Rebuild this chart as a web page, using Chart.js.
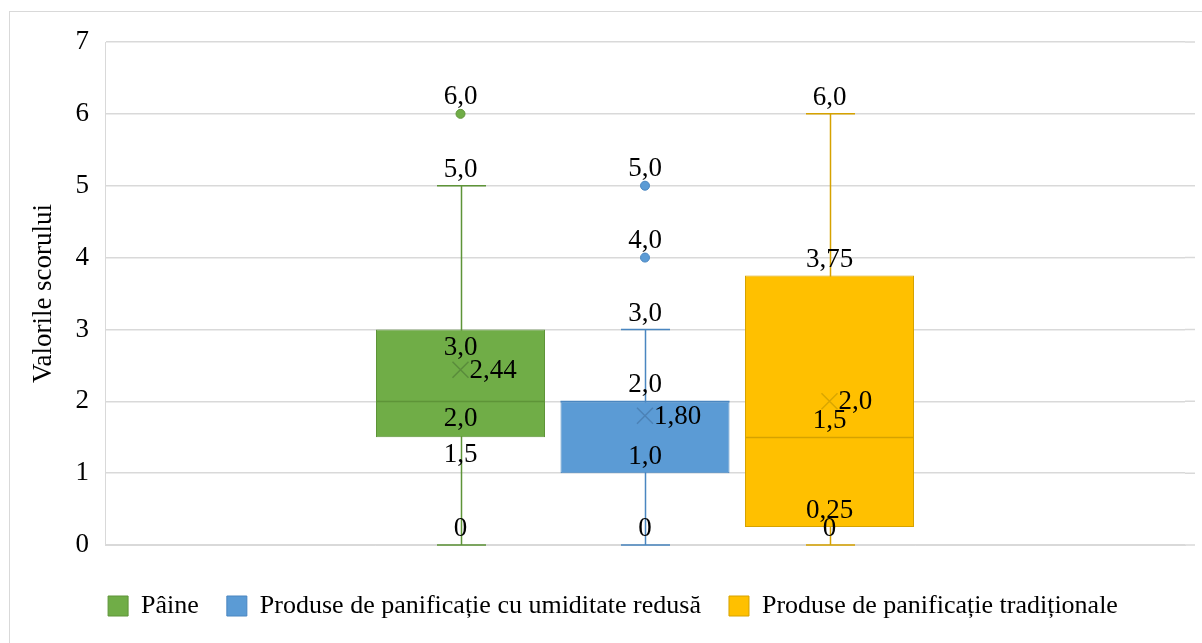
<!DOCTYPE html>
<html>
<head>
<meta charset="utf-8">
<script src="https://cdn.jsdelivr.net/npm/chart.js@4.4.0/dist/chart.umd.min.js"></script>
<style>
  html, body { margin: 0; padding: 0; background: #fff; }
  #wrap { width: 1202px; height: 643px; }
</style>
</head>
<body>
<div id="wrap"><canvas id="c" width="1202" height="643"></canvas></div>
<script>
/* ── Date ───────────────────────────────────────────── */
const series   = ['Pâine', 'Produse de panificație cu umiditate redusă', 'Produse de panificație tradiționale'];
const mins     = [0, 0, 0];
const q1s      = [1.5, 1.0, 0.25];
const medians  = [2.0, 2.0, 1.5];
const q3s      = [3.0, 2.0, 3.75];
const maxs     = [5.0, 3.0, 6.0];
const means    = [2.44, 1.80, 2.0];
const outliers = [[6.0], [4.0, 5.0], []];
const yTicks   = [0, 1, 2, 3, 4, 5, 6, 7];

/* ── Stil ───────────────────────────────────────────── */
const fills   = ['#70ad47', '#5b9bd5', '#ffc000'];
const strokes = ['#5e9438', '#4a86c0', '#d6a200'];
const meanCol = ['#5a8c3c', '#4c82b6', '#d9a600'];
const meanDigits = [2, 2, 1];
const labelsBelow = [['q1', 'median', 'q3'], [], []];
const FONT = '"Liberation Serif", "Times New Roman", serif';
const GRID = '#d9d9d9';

const fmt = (v, d) => {
  if (v === 0) return '0';
  if (d === undefined) d = Math.round(v * 100) % 10 ? 2 : 1;
  return v.toFixed(d).replace('.', ',');
};

const boxPlugin = {
  id: 'boxplot',
  beforeDraw(chart) {
    const ctx = chart.ctx;
    ctx.save();
    ctx.strokeStyle = GRID;
    ctx.lineWidth = 1;
    ctx.strokeRect(9.5, 11.5, 1400, 800);
    ctx.restore();
  },
  beforeDatasetsDraw(chart) {
    const ctx = chart.ctx, y = chart.scales.y, area = chart.chartArea;
    // liniile de grilă continuă până la marginea din dreapta
    ctx.save();
    ctx.strokeStyle = GRID;
    ctx.lineWidth = 1.5;
    ctx.beginPath();
    yTicks.forEach(v => {
      const py = y.getPixelForValue(v);
      ctx.moveTo(area.right, py);
      ctx.lineTo(1195, py);
    });
    ctx.stroke();
    ctx.restore();

    series.forEach((s, i) => {
      const bar = chart.getDatasetMeta(i).data[0];
      const x = Math.round(bar.x) + 0.5, cap = bar.width * 0.145;
      ctx.save();
      ctx.strokeStyle = strokes[i];
      ctx.lineWidth = 1.5;
      ctx.beginPath();
      ctx.moveTo(x, y.getPixelForValue(mins[i]));
      ctx.lineTo(x, y.getPixelForValue(maxs[i]));
      [mins[i], maxs[i]].forEach(v => {
        const py = y.getPixelForValue(v);
        ctx.moveTo(x - cap, py);
        ctx.lineTo(x + cap, py);
      });
      ctx.stroke();
      ctx.restore();
    });
  },
  afterDatasetsDraw(chart) {
    const ctx = chart.ctx, y = chart.scales.y;
    series.forEach((s, i) => {
      const bar = chart.getDatasetMeta(i).data[0];
      const x = bar.x, half = bar.width / 2;
      ctx.save();
      // mediana
      const my = Math.round(y.getPixelForValue(medians[i])) + 0.5;
      ctx.strokeStyle = strokes[i];
      ctx.lineWidth = 1.5;
      ctx.beginPath();
      ctx.moveTo(x - half, my);
      ctx.lineTo(x + half, my);
      ctx.stroke();
      // media (X)
      const ay = y.getPixelForValue(means[i]);
      ctx.strokeStyle = meanCol[i];
      ctx.lineWidth = 1.5;
      ctx.beginPath();
      ctx.moveTo(x - 8, ay - 8); ctx.lineTo(x + 8, ay + 8);
      ctx.moveTo(x + 8, ay - 8); ctx.lineTo(x - 8, ay + 8);
      ctx.stroke();
      // valori aberante
      ctx.fillStyle = fills[i];
      ctx.strokeStyle = strokes[i];
      ctx.lineWidth = 1;
      outliers[i].forEach(v => {
        ctx.beginPath();
        ctx.arc(x, y.getPixelForValue(v), 4.5, 0, Math.PI * 2);
        ctx.fill();
        ctx.stroke();
      });
      // etichete
      ctx.fillStyle = '#000';
      ctx.font = '27px ' + FONT;
      ctx.textAlign = 'center';
      ctx.textBaseline = 'middle';
      const pts = { min: mins[i], q1: q1s[i], median: medians[i], q3: q3s[i], max: maxs[i] };
      const done = [];
      Object.keys(pts).forEach(k => {
        const below = labelsBelow[i].includes(k);
        const key = pts[k] + (below ? 'b' : 'a');
        if (done.includes(key)) return;
        done.push(key);
        const py = y.getPixelForValue(pts[k]);
        ctx.fillText(fmt(pts[k]), x, below ? py + 18 : py - 16);
      });
      outliers[i].forEach(v => ctx.fillText(fmt(v), x, y.getPixelForValue(v) - 17));
      ctx.textAlign = 'left';
      ctx.fillText(fmt(means[i], meanDigits[i]), x + 9, ay + 1);
      ctx.restore();
    });
  }
};

new Chart(document.getElementById('c'), {
  type: 'bar',
  data: {
    labels: [''],
    datasets: series.map((s, i) => ({
      label: s,
      data: [[q1s[i], q3s[i]]],
      backgroundColor: fills[i],
      borderColor: strokes[i],
      borderWidth: 1,
      borderSkipped: false,
      categoryPercentage: 0.5125,
      barPercentage: 0.916
    }))
  },
  options: {
    responsive: false,
    animation: false,
    layout: { padding: { left: 28, right: 4, top: 42, bottom: 14 } },
    plugins: {
      legend: {
        position: 'bottom',
        labels: {
          color: '#000',
          font: { family: FONT, size: 26 },
          boxWidth: 20,
          boxHeight: 20,
          padding: 28
        }
      },
      tooltip: { enabled: false }
    },
    scales: {
      x: {
        ticks: { display: false },
        grid: { display: false },
        border: { color: GRID },
        afterFit: sc => { sc.height += 12; }
      },
      y: {
        min: 0,
        max: 7,
        afterBuildTicks: sc => { sc.ticks = yTicks.map(v => ({ value: v })); },
        afterFit: sc => { sc.width = 77; },
        ticks: {
          color: '#000',
          font: { family: FONT, size: 27 },
          padding: 16
        },
        title: {
          display: true,
          text: 'Valorile scorului',
          color: '#000',
          font: { family: FONT, size: 27 },
          padding: { top: 0, bottom: 4 }
        },
        grid: { color: GRID, lineWidth: 1.5, drawTicks: false },
        border: { color: GRID }
      },
      y2: {
        position: 'right',
        min: 0,
        max: 7,
        ticks: { display: false },
        grid: { display: false },
        border: { display: false },
        afterFit: sc => { sc.width = 13; }
      }
    }
  },
  plugins: [boxPlugin]
});
</script>
</body>
</html>
